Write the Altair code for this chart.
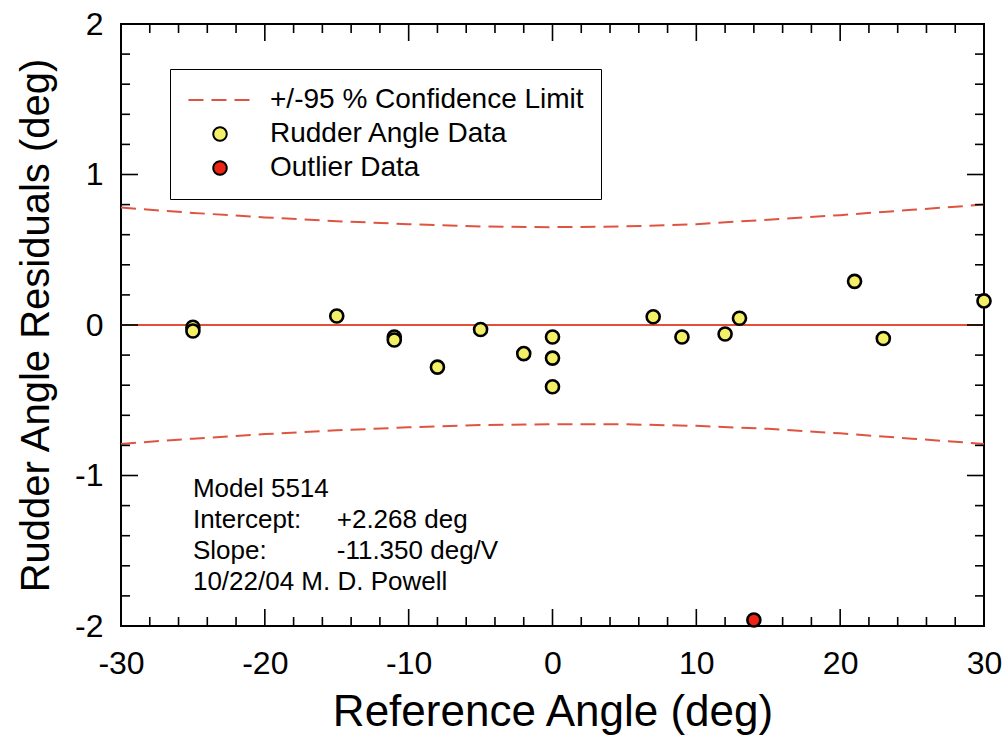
import altair as alt
import pandas as pd

# ---- data ----
ref_angle = [-25, -25, -15, -11, -11, -8, -5, -2, 0, 0, 0, 7, 9, 12, 13, 21, 23, 30]
residual = [-0.015, -0.04, 0.06, -0.08, -0.10, -0.28, -0.03, -0.19, -0.08, -0.22, -0.41,
            0.055, -0.08, -0.06, 0.045, 0.29, -0.09, 0.16]
outlier_angle = [14]
outlier_residual = [-1.96]

ci_angle = [-30, -25, -20, -15, -10, -5, 0, 5, 10, 15, 20, 25, 30]
ci_upper = [0.78, 0.745, 0.715, 0.69, 0.67, 0.655, 0.65, 0.655, 0.67, 0.70, 0.73, 0.765, 0.80]
ci_lower = [-0.79, -0.755, -0.725, -0.70, -0.68, -0.665, -0.66, -0.66, -0.67, -0.69, -0.72, -0.755, -0.79]

x_major = [-30, -20, -10, 0, 10, 20, 30]
x_minor = [v for v in range(-30, 31, 2) if v % 10 != 0]
y_major = [-2, -1, 0, 1, 2]
y_minor = [round(-2 + 0.2 * i, 1) for i in range(21) if (i % 5) != 0]

note_labels = ["Model 5514", "Intercept:", "Slope:", "10/22/04 M. D. Powell"]
note_values = ["", "+2.268 deg", "-11.350 deg/V", ""]

S_CI = "+/-95 % Confidence Limit"
S_DATA = "Rudder Angle Data"
S_OUT = "Outlier Data"

# ---- styles ----
W, H = 863, 602
RED = "#e2503c"
DASHRED = "#df5440"
YELLOW = "#f3f068"
OUTRED = "#ee2414"
FONT = "Liberation Sans"

series_domain = [S_CI, S_DATA, S_OUT]
stroke_scale = alt.Scale(domain=series_domain, range=[DASHRED, "black", "black"])
fill_scale = alt.Scale(domain=series_domain, range=["transparent", YELLOW, OUTRED])
shape_scale = alt.Scale(domain=series_domain, range=["M-4.7,0L4.7,0", "circle", "circle"])
dash_scale = alt.Scale(domain=series_domain, range=[[15, 8], [1, 0], [1, 0]])

xs = alt.Scale(domain=[-30, 30], nice=False, zero=False)
ys = alt.Scale(domain=[-2, 2], nice=False, zero=False)

pts = pd.DataFrame({
    "angle": ref_angle + outlier_angle,
    "resid": residual + outlier_residual,
    "series": [S_DATA] * len(ref_angle) + [S_OUT] * len(outlier_angle),
})
ci = pd.DataFrame({
    "angle": ci_angle + ci_angle,
    "resid": ci_upper + ci_lower,
    "side": ["upper"] * len(ci_angle) + ["lower"] * len(ci_angle),
    "series": [S_CI] * (2 * len(ci_angle)),
})

x_enc = alt.X("angle:Q", scale=xs,
              axis=alt.Axis(values=x_major, labelExpr="'' + datum.value",
                            title="Reference Angle (deg)"))
y_enc = alt.Y("resid:Q", scale=ys,
              axis=alt.Axis(values=y_major, labelExpr="'' + datum.value",
                            title="Rudder Angle Residuals (deg)"))

zero_line = alt.Chart(pd.DataFrame({"z": [0]})).mark_rule(
    color=RED, strokeWidth=2).encode(y=alt.Y("z:Q", scale=ys))

ci_lines = alt.Chart(ci).mark_line(strokeWidth=2).encode(
    x=x_enc, y=y_enc,
    detail="side:N",
    stroke=alt.Stroke("series:N", scale=stroke_scale, title=None),
    strokeDash=alt.StrokeDash("series:N", scale=dash_scale, title=None),
)

points = alt.Chart(pts).mark_point(filled=True, size=170, opacity=1, strokeWidth=2.6).encode(
    x=x_enc, y=y_enc,
    fill=alt.Fill("series:N", scale=fill_scale, title=None),
    stroke=alt.Stroke("series:N", scale=stroke_scale, title=None),
    shape=alt.Shape("series:N", scale=shape_scale, title=None),
)

# inward tick marks on all four sides
def xticks(vals, length):
    d = pd.DataFrame({"v": vals})
    bottom = alt.Chart(d).mark_rule(color="black", strokeWidth=1.6).encode(
        x=alt.X("v:Q", scale=xs), y=alt.value(H), y2=alt.value(H - length))
    top = alt.Chart(d).mark_rule(color="black", strokeWidth=1.6).encode(
        x=alt.X("v:Q", scale=xs), y=alt.value(0), y2=alt.value(length))
    return [bottom, top]

def yticks(vals, length):
    d = pd.DataFrame({"v": vals})
    left = alt.Chart(d).mark_rule(color="black", strokeWidth=1.6).encode(
        y=alt.Y("v:Q", scale=ys), x=alt.value(0), x2=alt.value(length))
    right = alt.Chart(d).mark_rule(color="black", strokeWidth=1.6).encode(
        y=alt.Y("v:Q", scale=ys), x=alt.value(W), x2=alt.value(W - length))
    return [left, right]

tick_layers = xticks(x_major, 17) + xticks(x_minor, 9) + yticks(y_major, 17) + yticks(y_minor, 9)

notes = alt.Chart(alt.Data(values=[{"t": note_labels}])).mark_text(
    align="left", baseline="alphabetic", fontSize=26, lineHeight=31, font=FONT, color="black"
).encode(x=alt.datum(-25.0, scale=xs), y=alt.datum(-1.143, scale=ys), text="t:N")
notes2 = alt.Chart(alt.Data(values=[{"t": note_values}])).mark_text(
    align="left", baseline="alphabetic", fontSize=26, lineHeight=31, font=FONT, color="black"
).encode(x=alt.datum(-15.0, scale=xs), y=alt.datum(-1.143, scale=ys), text="t:N")

chart = alt.layer(
    zero_line, ci_lines, *tick_layers, notes, notes2, points
).properties(
    width=W, height=H,
    autosize=alt.AutoSizeParams(type="none"),
    padding={"left": 121, "top": 24, "right": 23, "bottom": 125},
).configure_view(
    stroke="black", strokeWidth=2
).configure_axis(
    domain=False, ticks=False, grid=False, labelFlush=False,
    labelFont=FONT, titleFont=FONT, labelColor="black", titleColor="black",
    labelFontSize=32, titleFontWeight="normal",
).configure_axisX(
    labelPadding=22, titlePadding=11, titleFontSize=44,
).configure_axisY(
    labelPadding=18, titlePadding=18, titleFontSize=40,
).configure_legend(
    orient="none", legendX=49, legendY=45,
    strokeColor="black", fillColor="white", padding=17,
    labelFont=FONT, labelFontSize=28, labelColor="black", labelLimit=0,
    symbolStrokeWidth=2, symbolSize=180, rowPadding=6, labelOffset=36,
    symbolOffset=19,
)

chart.save("out.html", embed_options={"renderer": "svg", "actions": False})
